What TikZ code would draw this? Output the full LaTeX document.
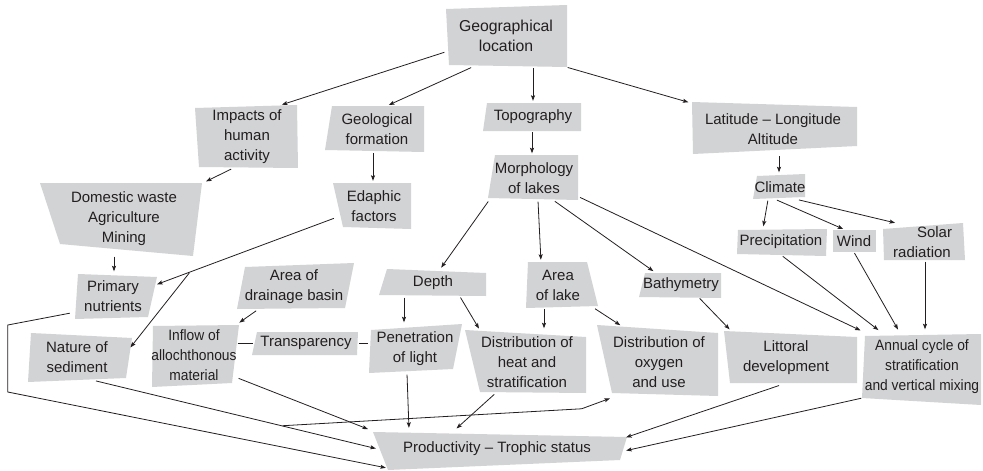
\documentclass[tikz,border=0pt]{standalone}
\usepackage{fontspec}
\setmainfont{Liberation Sans}
\newfontfamily\narrowsf[FakeStretch=0.92]{Liberation Sans}
\usetikzlibrary{arrows.meta}
\definecolor{boxgray}{RGB}{210,211,213}
\definecolor{ink}{RGB}{35,31,32}

\begin{document}
\begin{tikzpicture}[x=1pt,y=-1pt,
    box/.style={align=center,inner sep=0pt,text=ink,font=\fontsize{15}{20}\selectfont},
    narrow/.style={font=\narrowsf\fontsize{15}{20}\selectfont},
    arr/.style={draw=ink,line width=0.8pt,-{Stealth[length=5.5pt,width=4pt,inset=1pt]},shorten >=2pt,shorten <=1pt},
    link/.style={draw=ink,line width=0.8pt}]
\useasboundingbox (0,0) rectangle (983,471);
% grey boxes
\fill[boxgray] (446,9) -- (567,5) -- (567,67) -- (449,65) -- cycle;
\fill[boxgray] (195,108) -- (297,105) -- (298,168) -- (199,167) -- cycle;
\fill[boxgray] (332,106) -- (424,106) -- (424,152) -- (325,150) -- cycle;
\fill[boxgray] (40,183) -- (202,183) -- (193,256) -- (60,244) -- cycle;
\fill[boxgray] (333,183) -- (411,183) -- (411,229) -- (343,227) -- cycle;
\fill[boxgray] (487,103) -- (581,103) -- (581,131) -- (483,131) -- cycle;
\fill[boxgray] (495,155) -- (578,155) -- (578,200) -- (488,198) -- cycle;
\fill[boxgray] (692,102) -- (857,107) -- (857,146) -- (693,154) -- cycle;
\fill[boxgray] (757,176) -- (805,174) -- (805,197) -- (753,199) -- cycle;
\fill[boxgray] (738,230) -- (827,229) -- (826,256) -- (737,254) -- cycle;
\fill[boxgray] (833,230) -- (876,230) -- (876,252) -- (833,252) -- cycle;
\fill[boxgray] (883,229) -- (963,223) -- (965,260) -- (884,260) -- cycle;
\fill[boxgray] (78,274) -- (157,277) -- (148,317) -- (75,319) -- cycle;
\fill[boxgray] (245,267) -- (354,263) -- (345,308) -- (237,309) -- cycle;
\fill[boxgray] (387,269) -- (486,273) -- (486,296) -- (379,295) -- cycle;
\fill[boxgray] (528,262) -- (587,262) -- (598,306) -- (526,308) -- cycle;
\fill[boxgray] (645,273) -- (721,273) -- (721,298) -- (639,297) -- cycle;
\fill[boxgray] (31,333) -- (132,338) -- (126,378) -- (28,382) -- cycle;
\fill[boxgray] (153,326) -- (239,325) -- (232,383) -- (152,387) -- cycle;
\fill[boxgray] (257,332) -- (358,332) -- (357,355) -- (252,355) -- cycle;
\fill[boxgray] (371,330) -- (462,324) -- (453,369) -- (369,373) -- cycle;
\fill[boxgray] (465,330) -- (586,337) -- (586,393) -- (480,392) -- cycle;
\fill[boxgray] (597,325) -- (718,333) -- (718,396) -- (612,393) -- cycle;
\fill[boxgray] (724,331) -- (857,337) -- (857,383) -- (730,383) -- cycle;
\fill[boxgray] (865,336) -- (981,334) -- (981,405) -- (862,398) -- cycle;
\fill[boxgray] (373,432) -- (627,437) -- (620,460) -- (388,470) -- cycle;
% labels
\node[box,font=\fontsize{15.8}{20}\selectfont,minimum width=121pt,minimum height=62pt] (geo) at (506,36) {Geographical\\location};
\node[box,minimum width=103pt,minimum height=63pt] (imp) at (247,137) {Impacts of\\human\\activity};
\node[box,minimum width=99pt,minimum height=46pt] (geol) at (377,129) {Geological\\formation};
\node[box,minimum width=160pt,minimum height=73pt] (dom) at (124,219) {Domestic waste\\Agriculture\\Mining};
\node[box,minimum width=78pt,minimum height=46pt] (eda) at (374,206) {Edaphic\\factors};
\node[box,minimum width=98pt,minimum height=28pt] (topo) at (533,117) {Topography};
\node[box,minimum width=90pt,minimum height=45pt] (morph) at (534,178) {Morphology\\of lakes};
\node[box,minimum width=165pt,minimum height=52pt] (lat) at (773,129) {Latitude – Longitude\\Altitude};
\node[box,minimum width=52pt,minimum height=25pt] (clim) at (780,187) {Climate};
\node[box,minimum width=90pt,minimum height=27pt] (prec) at (781,242) {Precipitation};
\node[box,minimum width=43pt,minimum height=22pt] (wind) at (854,241) {Wind};
\node[box,minimum width=82pt,minimum height=37pt] (solar) at (922,242) {\hspace*{25pt}Solar\\radiation};
\node[box,minimum width=84pt,minimum height=45pt] (prim) at (113,296) {Primary\\nutrients};
\node[box,minimum width=117pt,minimum height=46pt] (drain) at (294,287) {Area of\\drainage basin};
\node[box,minimum width=107pt,minimum height=27pt] (depth) at (433,283) {Depth};
\node[box,minimum width=72pt,minimum height=46pt] (lake) at (558,285) {Area\\of lake};
\node[box,minimum width=82pt,minimum height=25pt] (bath) at (681,285) {Bathymetry};
\node[box,minimum width=104pt,minimum height=47pt] (sed) at (77,357) {Nature of\\sediment};
\node[box,narrow,minimum width=87pt,minimum height=62pt] (inflow) at (194,355) {Inflow of\\allochthonous\\material};
\node[box,minimum width=106pt,minimum height=23pt] (transp) at (306,343) {Transparency};
\node[box,minimum width=93pt,minimum height=49pt] (pen) at (415,349) {Penetration\\of light};
\node[box,minimum width=121pt,minimum height=63pt] (heat) at (527,362) {Distribution of\\heat and\\stratification};
\node[box,minimum width=122pt,minimum height=71pt] (oxy) at (659,362) {Distribution of\\oxygen\\and use};
\node[box,minimum width=131pt,minimum height=54pt] (litt) at (786,358) {Littoral\\development};
\node[box,narrow,minimum width=119pt,minimum height=71pt] (annual) at (922,367) {Annual cycle of\\stratification\\and vertical mixing};
\node[box,minimum width=254pt,minimum height=38pt] (prod) at (497,449) {Productivity – Trophic status};
% connectors
\draw[arr] ([yshift=-16pt]geo.west) -- ([xshift=33pt]imp.north);
\draw[arr] ([xshift=-34pt]geo.south) -- ([xshift=10pt]geol.north);
\draw[arr] ([xshift=27pt]geo.south) -- (topo.north);
\draw[arr] (geo.south east) -- (lat.north west);
\draw[arr] ([xshift=-15pt]imp.south) -- (dom.north east);
\draw[arr] ([xshift=-4pt]geol.south) -- ([xshift=-1pt]eda.north);
\draw[arr] ([xshift=-1pt]topo.south) -- ([xshift=-2pt]morph.north);
\draw[arr] ([xshift=6pt]lat.south) -- ([xshift=-1pt]clim.north);
\draw[arr] ([xshift=-12pt]clim.south) -- ([xshift=-18pt]prec.north);
\draw[arr] ([xshift=-4pt]clim.south) -- ([xshift=-9pt]wind.north);
\draw[arr] ([xshift=18pt]clim.south) -- ([xshift=-25pt]solar.north);
\draw[arr] ([xshift=-10pt]dom.south) -- ([xshift=1pt]prim.north);
\draw[arr] ([yshift=-12pt]eda.west) -- coordinate[pos=0.806] (fork1) ([yshift=11pt]prim.east);
\draw[arr] (fork1) -- ([yshift=8pt]sed.east);
\draw[arr] (morph.south west) -- ([xshift=7pt]depth.north);
\draw[arr] ([xshift=4pt]morph.south) -- ([xshift=-17pt]lake.north);
\draw[arr] ([xshift=20pt]morph.south) -- ([xshift=-26pt]bath.north);
\draw[arr] ([yshift=-19pt]morph.east) -- (annual.north west);
\draw[arr] ([yshift=-17pt]prim.west) -- ++(-63,12) -- ++(0,67) -- ([xshift=18pt]prod.south west);
\draw[arr] ([xshift=-37pt]drain.south) -- (inflow.north east);
\draw[link] (inflow.east |- transp.west) -- (transp.west);
\draw[link] (transp.east) -- (pen.west |- transp.east);
\draw[arr] ([xshift=-29pt]depth.south) -- ([xshift=-11pt]pen.north);
\draw[arr] ([xshift=27pt]depth.south) -- ([xshift=-47pt]heat.north);
\draw[arr] ([xshift=-14pt]lake.south) -- ([xshift=17pt]heat.north);
\draw[arr] (lake.south east) -- ([xshift=-37pt]oxy.north);
\draw[arr] ([xshift=18pt]bath.south) -- ([xshift=-55pt]litt.north);
\draw[arr] ([xshift=1pt]prec.south) -- ([xshift=-42pt]annual.north);
\draw[arr] (wind.south) -- ([xshift=-23pt]annual.north);
\draw[arr] ([xshift=3pt]solar.south) -- ([xshift=3pt]annual.north);
\draw[arr] ([xshift=18pt]sed.south) -- coordinate[pos=0.66] (fork2) ([xshift=8pt]prod.west);
\draw[arr] (fork2) -- ++(300,-17) -- ([xshift=14pt]oxy.south west);
\draw[arr] ([yshift=-23pt]inflow.east) -- (prod.north west);
\draw[arr] ([xshift=-8pt]pen.south) -- ([xshift=-88pt]prod.north);
\draw[arr] ([xshift=-32pt]heat.south) -- ([xshift=-42pt]prod.north);
\draw[arr] ([xshift=-6pt]litt.south) -- ([yshift=11pt]prod.east);
\draw[arr] ([yshift=-31pt]annual.west) -- ([yshift=-2pt]prod.east);
\end{tikzpicture}
\end{document}
